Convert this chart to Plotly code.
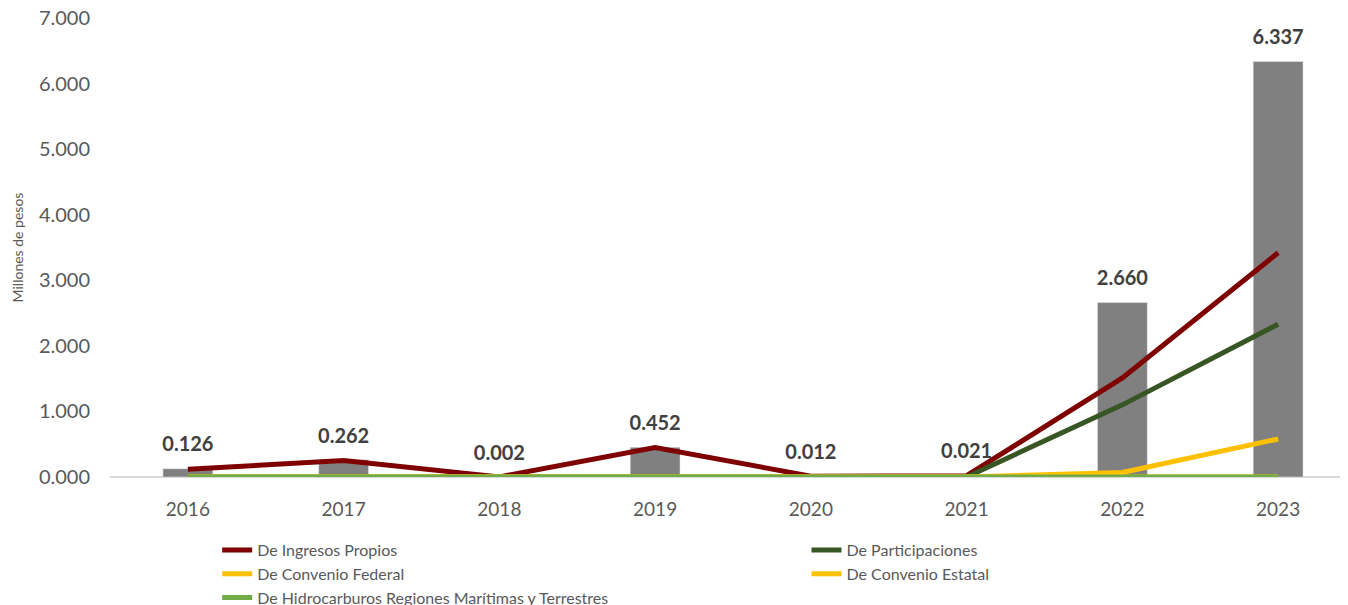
import plotly.graph_objects as go

years = ["2016", "2017", "2018", "2019", "2020", "2021", "2022", "2023"]
total = [0.126, 0.262, 0.002, 0.452, 0.012, 0.021, 2.660, 6.337]
ingresos_propios = [0.12, 0.25, 0.002, 0.45, 0.012, 0.02, 1.51, 3.42]
participaciones = [0, 0, 0, 0, 0, 0.001, 1.10, 2.33]
convenio_federal = [0, 0, 0, 0, 0, 0, 0.07, 0.58]
convenio_estatal = [0, 0, 0, 0, 0, 0, 0, 0]
hidrocarburos = [0, 0, 0, 0, 0, 0, 0, 0]

font = "Lato, Open Sans, sans-serif"

fig = go.Figure()
fig.add_trace(go.Bar(x=years, y=total, marker_color="#808080", width=0.32,
                     showlegend=False, hoverinfo="skip"))

# two legend columns, like the original
series = [
    ("De Ingresos Propios", ingresos_propios, "#7f0000", "legend"),
    ("De Participaciones", participaciones, "#375623", "legend2"),
    ("De Convenio Federal", convenio_federal, "#ffc000", "legend"),
    ("De Convenio Estatal", convenio_estatal, "#ffc000", "legend2"),
    ("De Hidrocarburos Regiones Marítimas y Terrestres", hidrocarburos, "#70ad47", "legend"),
]
for name, vals, col, leg in series:
    fig.add_trace(go.Scatter(x=years, y=vals, name=name, mode="lines", legend=leg,
                             line=dict(color=col, width=5)))

# value labels above the bars
fig.add_trace(go.Scatter(x=years, y=total, mode="markers+text",
                         text=["<b>%.3f</b>" % v for v in total],
                         textposition="top center",
                         marker=dict(size=18, opacity=0),
                         textfont=dict(family=font, size=20, color="#404040"),
                         showlegend=False, hoverinfo="skip"))

legfont = dict(size=16, color="#595959")
fig.update_layout(
    width=1348, height=605,
    margin=dict(l=102, r=0, t=10, b=136, autoexpand=False),
    plot_bgcolor="white", paper_bgcolor="white",
    font=dict(family=font, color="#595959"),
    legend=dict(x=0.086, y=-0.122, xanchor="left", yanchor="top",
                font=legfont, tracegroupgap=0),
    legend2=dict(x=0.559, y=-0.122, xanchor="left", yanchor="top",
                 font=legfont, tracegroupgap=0),
)
fig.update_xaxes(type="category", showgrid=False, showline=False, ticks="",
                 ticklabelstandoff=19,
                 tickfont=dict(size=19, color="#595959"))
fig.update_yaxes(range=[0, 7], dtick=1, tickformat=".3f", showgrid=False,
                 zeroline=True, zerolinecolor="#d9d9d9", zerolinewidth=1.5,
                 ticks="", ticklabelstandoff=19, automargin=False,
                 ticklabeloverflow="allow",
                 tickfont=dict(size=20, color="#595959"),
                 title=dict(text="Millones de pesos", font=dict(size=14, color="#595959"), standoff=11))

fig.write_html("out.html")
